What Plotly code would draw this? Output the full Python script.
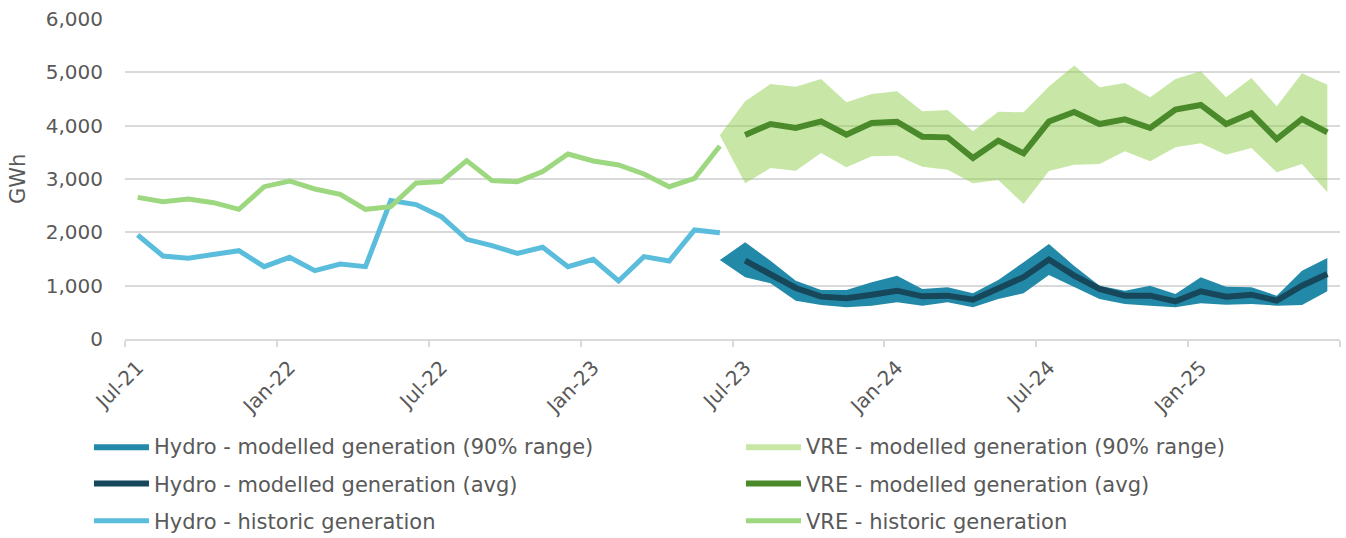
import pandas as pd
import plotly.graph_objects as go

# Monthly timeline Jul-21 .. Jun-25
months = pd.date_range("2021-07-01", periods=48, freq="MS").strftime("%b-%y").tolist()

# Historic generation (Jul-21 .. Jun-23), GWh
hydro_hist = [1950, 1556, 1513, 1590, 1656, 1356, 1531, 1281, 1406, 1356, 2594, 2520,
              2294, 1869, 1750, 1606, 1719, 1356, 1494, 1088, 1544, 1463, 2044, 1994]
vre_hist = [2656, 2575, 2625, 2556, 2431, 2856, 2963, 2813, 2713, 2431, 2481, 2925,
            2950, 3344, 2969, 2950, 3138, 3469, 3338, 3263, 3094, 2856, 3013, 3619]

# Modelled averages (Jul-23 .. Jun-25), GWh
hydro_avg = [1469, 1219, 956, 794, 763, 831, 906, 800, 813, 738, 938, 1160,
             1490, 1190, 938, 813, 813, 706, 894, 794, 831, 719, 1000, 1219]
vre_avg = [3825, 4031, 3956, 4081, 3831, 4050, 4075, 3794, 3781, 3394, 3719, 3481,
           4078, 4256, 4031, 4119, 3956, 4300, 4388, 4031, 4231, 3750, 4125, 3875]

# Modelled 90% ranges (Jun-23 .. Jun-25), GWh
hydro_lo = [1480, 1156, 1044, 719, 638, 594, 625, 688, 625, 688, 594, 750, 860,
            1200, 970, 750, 656, 625, 594, 669, 644, 656, 625, 638, 894]
hydro_hi = [1480, 1813, 1469, 1094, 919, 919, 1063, 1188, 938, 969, 856, 1106, 1438,
            1781, 1370, 1000, 906, 1000, 844, 1156, 981, 969, 813, 1281, 1519]
vre_lo = [3820, 2919, 3206, 3156, 3488, 3219, 3425, 3438, 3231, 3175, 2919, 2981, 2531,
          3150, 3266, 3281, 3519, 3331, 3594, 3669, 3456, 3581, 3125, 3281, 2750]
vre_hi = [3820, 4456, 4781, 4731, 4875, 4438, 4594, 4644, 4269, 4294, 3894, 4263, 4250,
          4735, 5130, 4719, 4800, 4531, 4875, 5019, 4531, 4894, 4363, 4981, 4769]

n = len(months)
x_hist = list(range(len(hydro_hist)))
x_avg = list(range(n - len(hydro_avg), n))
x_band = list(range(n - len(hydro_lo), n))

C_HYDRO_BAND = "#2389A8"
C_HYDRO_AVG = "#17475A"
C_HYDRO_HIST = "#5BBDDC"
C_VRE_BAND = "rgba(146,208,80,0.5)"
C_VRE_AVG = "#4A8A2A"
C_VRE_HIST = "#9DD880"
GREY = "#595959"
GRID = "#D9D9D9"
FONT = "DejaVu Sans, sans-serif"


def band(name, lo, hi, color, legend, group):
    return go.Scatter(
        x=x_band + x_band[::-1], y=hi + lo[::-1], name=name, mode="lines",
        fill="toself", fillcolor=color, line=dict(width=0, color=color),
        legend=legend, legendgroup=group, hoverinfo="skip",
    )


def line(name, x, y, color, legend, group, width):
    return go.Scatter(
        x=x, y=y, name=name, mode="lines", legend=legend, legendgroup=group,
        line=dict(color=color, width=width),
    )


fig = go.Figure()
fig.add_trace(band("VRE - modelled generation (90% range)", vre_lo, vre_hi, C_VRE_BAND, "legend2", "g4"))
fig.add_trace(band("Hydro - modelled generation (90% range)", hydro_lo, hydro_hi, C_HYDRO_BAND, "legend", "g1"))
fig.add_trace(line("Hydro - modelled generation (avg)", x_avg, hydro_avg, C_HYDRO_AVG, "legend", "g2", 6))
fig.add_trace(line("Hydro - historic generation", x_hist, hydro_hist, C_HYDRO_HIST, "legend", "g3", 5))
fig.add_trace(line("VRE - modelled generation (avg)", x_avg, vre_avg, C_VRE_AVG, "legend2", "g5", 6))
fig.add_trace(line("VRE - historic generation", x_hist, vre_hist, C_VRE_HIST, "legend2", "g6", 5))

# legend ordering within each column
ranks = {"g1": 1, "g2": 2, "g3": 3, "g4": 1, "g5": 2, "g6": 3}
for tr in fig.data:
    tr.legendrank = ranks[tr.legendgroup]

# invisible trace that carries the month labels on the overlaid axis
fig.add_trace(go.Scatter(x=[0, n - 1], y=[None, None], xaxis="x2", showlegend=False, hoverinfo="skip"))

label_idx = list(range(0, n, 6))
legend_common = dict(
    orientation="v", xref="container", yref="container", yanchor="top", xanchor="left",
    font=dict(family=FONT, size=21, color=GREY),
    bgcolor="rgba(0,0,0,0)", itemwidth=55, tracegroupgap=7, traceorder="grouped",
)

fig.update_layout(
    width=1346, height=538,
    margin=dict(l=125, r=6, t=19, b=199, autoexpand=False),
    paper_bgcolor="white", plot_bgcolor="white",
    font=dict(family=FONT, color=GREY, size=20),
    xaxis=dict(
        range=[-0.5, n - 0.5], tickmode="array", tickvals=[i - 0.5 for i in range(0, n + 1, 6)],
        showticklabels=False, ticks="outside", ticklen=6, tickwidth=1.5, tickcolor=GRID,
        showgrid=False, zeroline=False, showline=True, linecolor=GRID, linewidth=2,
        automargin=False,
    ),
    xaxis2=dict(
        overlaying="x", matches="x", side="bottom", range=[-0.5, n - 0.5],
        tickmode="array", tickvals=label_idx, ticktext=[months[i] for i in label_idx],
        tickangle=-45, ticks="", showgrid=False, zeroline=False, showline=False,
        ticklabelstandoff=12, tickfont=dict(family=FONT, size=20, color=GREY),
        automargin=False,
    ),
    yaxis=dict(
        range=[0, 6000], dtick=1000, tickformat=",", showgrid=True, gridcolor=GRID, gridwidth=2,
        zeroline=False, showline=False, ticks="", ticklabelstandoff=21, automargin=False,
        tickfont=dict(family=FONT, size=20, color=GREY),
    ),
    legend=dict(x=0.0661, y=0.208, **legend_common),
    legend2=dict(x=0.5505, y=0.208, **legend_common),
    showlegend=True,
    annotations=[dict(
        text="GWh", textangle=-90, xref="paper", yref="paper", x=-0.088, y=0.5,
        xanchor="center", yanchor="middle", showarrow=False,
        font=dict(family=FONT, size=21, color=GREY),
    )],
)

fig.write_html("out.html")
